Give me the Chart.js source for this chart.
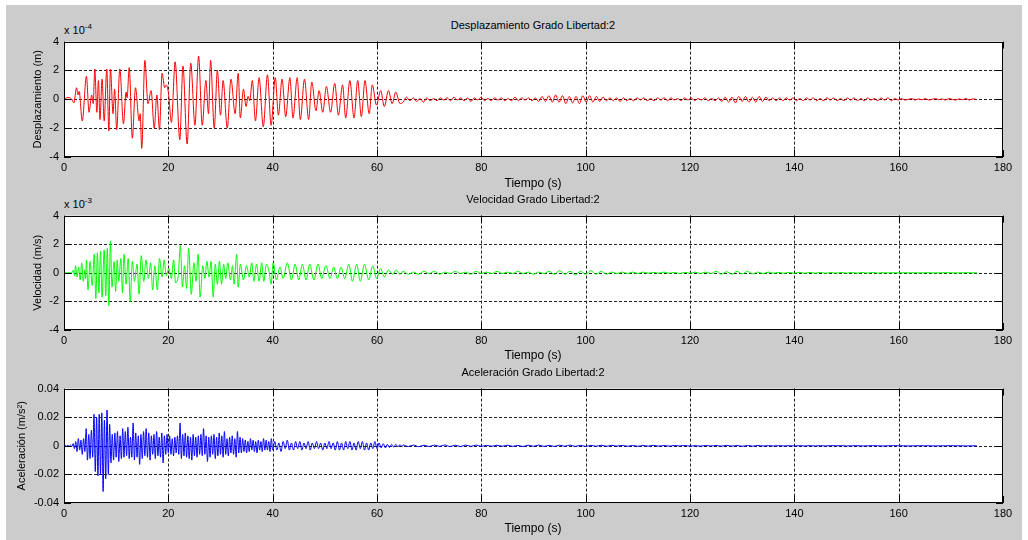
<!DOCTYPE html>
<html>
<head>
<meta charset="utf-8">
<script src="https://cdn.jsdelivr.net/npm/chart.js@4.4.1/dist/chart.umd.min.js"></script>
<style>
  body { margin: 0; width: 1028px; height: 540px; background: #fff; overflow: hidden;
         font-family: Arial, "Liberation Sans", Helvetica, sans-serif; }
  #fig { position: absolute; left: 6px; top: 5px; width: 1016px; height: 535px; background: #cccccc; }
  canvas { position: absolute; left: 0; }
  .lbl { position: absolute; font-size: 11px; color: #000; white-space: nowrap; transform: translate(-50%, -50%); }
  .lbl.axt { font-size: 12px; }
  .exp { position: absolute; font-size: 11px; color: #000; white-space: nowrap; }
  .exp sup { font-size: 8px; }
</style>
</head>
<body>
<div id="fig"></div>

<div class="lbl" style="left:533px;top:25px">Desplazamiento Grado Libertad:2</div>
<div class="exp" style="left:64px;top:22px">x 10<sup>-4</sup></div>
<canvas id="dispChart" width="1028" height="150" style="top:30px"></canvas>
<div class="lbl axt" style="left:533px;top:183px">Tiempo (s)</div>

<div class="lbl" style="left:533px;top:199px">Velocidad Grado Libertad:2</div>
<div class="exp" style="left:64px;top:196px">x 10<sup>-3</sup></div>
<canvas id="velChart" width="1028" height="149" style="top:204px"></canvas>
<div class="lbl axt" style="left:533px;top:355px">Tiempo (s)</div>

<div class="lbl" style="left:533px;top:372px">Aceleración Grado Libertad:2</div>
<canvas id="accChart" width="1028" height="149" style="top:377px"></canvas>
<div class="lbl axt" style="left:533px;top:528px">Tiempo (s)</div>

<script>
// time axis
const timeMin = 0, timeMax = 180, timeStep = 20;

// displacement (x 1e-4 m), extrema
const dispTime = [
  0, 0.5, 1.0, 1.5, 1.9, 2.4, 2.7, 2.9, 3.5, 4.3,
  4.8, 5.3, 5.6, 5.9, 6.3, 6.6, 6.9, 7.3, 7.7, 8.2,
  8.6, 8.9, 9.4, 9.7, 10.1, 10.7, 11.4, 11.9, 12.1, 12.5,
  13.1, 13.7, 14.4, 14.6, 14.9, 15.5, 16.1, 16.7, 17.3, 17.8,
  18.3, 18.8, 19.3, 19.6, 20.0, 20.6, 21.3, 22.2, 22.8, 23.6,
  24.3, 25.1, 25.8, 26.5, 27.2, 27.7, 28.1, 28.8, 29.4, 30.0,
  30.5, 31.3, 32.0, 32.8, 33.4, 33.8, 34.4, 34.9, 35.3, 35.6,
  36.1, 36.7, 37.4, 38.2, 39.0, 39.7, 40.5, 41.1, 41.8, 42.5,
  43.3, 43.9, 44.7, 45.3, 46.1, 46.9, 47.5, 48.3, 48.9, 49.6,
  50.3, 51.1, 51.9, 52.6, 53.4, 54.0, 54.8, 55.6, 56.3, 57.0,
  57.7, 58.5, 59.1, 59.9, 60.7, 61.4, 62.2, 62.9, 63.6, 64.4
];
const dispValue = [
  0, 0.1, 0.12, 0, -0.25, 0.8, 0.3, 0.55, -1.5, 1.6,
  -0.9, 0.3, -0.3, 2.1, -0.9, 1.3, -1.4, 1.4, -1.5, 2.1,
  -2.2, 2.1, -1.0, 0.7, -2.1, 2.1, -1.7, 0.5, 0.1, 2.2,
  -2.7, 0.8, -1.5, -1.0, -3.4, 2.7, -0.3, 0.6, -2.0, 0.3,
  -2.1, 1.8, 0.8, 1.0, 0.5, -1.6, 2.6, -2.8, 2.3, -3.1,
  2.5, -1.8, 3.0, -1.8, 1.3, -1.0, 2.7, -2.0, 2.0, -1.1,
  1.3, -2.0, 1.4, -1.0, 1.8, -1.3, 0.7, -0.5, 0.2, -0.1,
  1.3, -1.5, 1.5, -1.9, 1.7, -1.8, 1.5, -1.1, 1.4, -1.2,
  1.5, -1.3, 1.5, -1.4, 1.4, -1.4, 1.2, -0.8, 0.6, -0.9,
  0.9, -0.9, 1.1, -1.1, 1.0, -1.3, 1.3, -1.3, 1.3, -1.2,
  1.3, -1.0, 1.0, -0.4, 0.6, -0.5, 0.6, -0.3, 0.5, -0.3
];
// displacement tail, sampled every 0.65 s from 65 s
const dispTailStart = 65, dispTailStep = 0.65;
const dispTail = [
  -0.2, 0.15, -0.1, 0.1, -0.15, 0.05, -0.2, 0.1, -0.1, 0.05,
  -0.1, 0.1, -0.05, 0.1, -0.1, 0.15, -0.05, 0.1, -0.1, 0.1,
  -0.15, 0.1, -0.05, 0.15, -0.1, 0.05, -0.1, 0.1, -0.05, 0.1,
  -0.1, 0.05, -0.1, 0.15, -0.1, 0.1, -0.05, 0.1, -0.1,
  0.1, -0.15, 0.2, -0.15, 0.25, -0.2, 0.3, -0.2, 0.25, -0.3, 0.2,
  -0.25, 0.2, -0.3, 0.25, -0.2, 0.25, -0.2, 0.2, -0.15, 0.15, -0.1, 0.1, -0.1,
  0.1, -0.15, 0.1, -0.1, 0.05, -0.1, 0.1, -0.05, 0.1, -0.1,
  0.05, -0.1, 0.1, -0.05, 0.1, -0.1, 0.1, -0.05, 0.05, -0.1,
  0.1, -0.05, 0.1, -0.1, 0.05, -0.05, 0.1, -0.1, 0.05, -0.1, 0.1,
  -0.15, 0.15, -0.2, 0.15, -0.25, 0.2, -0.15, 0.2, -0.2, 0.15, -0.2, 0.2, -0.15, 0.15, -0.1, 0.1, -0.1, 0.1,
  -0.1, 0.1, -0.05, 0.1, -0.1, 0.05, -0.1, 0.1, -0.05, 0.1,
  -0.1, 0.05, -0.1, 0.1, -0.05, 0.1, -0.1, 0.05, -0.1, 0.1,
  -0.05, 0.1, -0.1, 0.05, -0.1, 0.1, -0.05, 0.05, -0.1, 0.1, -0.05, 0.1, -0.1, 0.05, -0.05,
  0.05, -0.05, 0, 0.05, -0.05, 0.03, -0.03, 0.05, -0.05, 0, 0.05, -0.03,
  0.03, -0.05, 0.05, 0, -0.05, 0.03, -0.03, 0.05, -0.05, 0.03, 0
];

// velocity (x 1e-3 m/s)
const velTime = [
  0, 1.5, 1.8, 2.0, 2.2, 2.5, 2.8, 3.1, 3.4, 3.7,
  4.0, 4.15, 4.3, 4.6, 5.0, 5.4, 5.8, 6.1, 6.4, 6.7,
  7.0, 7.3, 7.7, 8.0, 8.3, 8.6, 8.9, 9.2, 9.6, 9.9,
  10.2, 10.5, 10.9, 11.2, 11.5, 11.9, 12.3, 12.7, 13.1, 13.5,
  14.0, 14.4, 14.8, 15.3, 15.7, 16.2, 16.6, 17.0, 17.4, 17.9,
  18.3, 18.8, 19.2, 19.6, 20.1, 20.6, 21.0, 21.4, 21.9, 22.3,
  22.7, 23.1, 23.5, 23.9, 24.4, 24.9, 25.3, 25.7, 26.1, 26.6,
  27.0, 27.4, 27.8, 28.2, 28.6, 29.0, 29.4, 29.8, 30.2, 30.6,
  31.0, 31.4, 31.9, 32.3, 32.6, 33.1, 33.4, 33.8, 34.4, 35.0,
  35.5, 36.0, 36.4, 36.9, 37.4, 37.9, 38.3, 38.8, 39.3, 39.7,
  40.1, 40.7, 41.4, 42.0, 42.8, 43.6, 44.3, 45.0, 45.7, 46.4,
  47.1, 47.9, 48.7, 49.4, 50.2, 51.0, 51.7, 52.4, 53.1, 53.8,
  54.6, 55.3, 56.1, 56.8, 57.6, 58.4, 59.2, 59.9, 60.7, 61.4,
  62.2, 63.0, 63.7, 64.4
];
const velValue = [
  0, 0, 0.2, -0.2, 0.5, -0.3, 0.4, -0.5, 0.7, -0.6,
  0.2, -0.4, 0.9, -1.2, 0.8, -0.9, 1.3, -1.8, 1.4, -1.4,
  1.5, -1.7, 1.6, -1.6, 1.7, -2.3, 2.2, -1.0, 0.8, -1.3,
  0.9, -0.6, 1.0, -1.4, 1.3, -0.8, 1.0, -2.0, 0.8, -0.6,
  0.6, -1.5, 1.2, -0.6, 0.9, -0.4, 0.7, -1.2, 0.5, -1.2,
  1.0, -0.3, 0.9, -0.2, 0.3, -0.4, 0.9, -0.7, -0.2, 1.9,
  -1.0, 0.5, -1.1, 1.7, -1.5, 0.7, -0.6, 1.3, -1.7, 0.5,
  -0.4, 0.8, -0.3, 0.8, -1.7, 0.6, -0.8, 0.8, -0.8, 0.6,
  -0.4, 0.7, -0.5, 0.5, -0.8, 1.3, -1.0, 0.6, -0.5, 0.5,
  -0.3, 0.7, -0.6, 0.6, -0.6, 0.7, -0.6, 0.6, 0.1, -0.8,
  0.7, -0.5, 0.4, -0.4, 0.7, -0.5, 0.6, -0.5, 0.6, -0.5,
  0.6, -0.5, 0.6, -0.4, 0.5, -0.4, 0.4, -0.4, 0.4, -0.4,
  0.6, -0.6, 0.6, -0.6, 0.6, -0.5, 0.5, -0.4, 0.3, -0.3,
  0.2, -0.1, 0.2, -0.1
];
// velocity tail, every 1 s from 65 s
const velTailStart = 65, velTailStep = 1;
const velTail = [
  0.1, -0.1, 0.05, -0.1, 0.1, -0.05, 0.1, -0.1, 0.05, -0.05,
  0.1, -0.05, 0.05, -0.1, 0.1, -0.05, 0.05, -0.05, 0.1, -0.05,
  0.05, -0.05, 0.1, -0.05, 0.05, -0.1, 0.05, -0.05, 0.1, -0.1,
  0.15, -0.1, 0.1, -0.15, 0.1, -0.1, 0.15, -0.1, 0.1, -0.1,
  0.05, -0.05, 0.05, -0.05, 0.05, -0.05, 0.05, -0.03, 0.03, -0.03,
  0.05, -0.03, 0.03, -0.05, 0.03, -0.03, 0.05, -0.05, 0.05, -0.05,
  0.1, -0.1, 0.08, -0.1, 0.1, -0.08, 0.1, -0.08, 0.05, -0.05,
  0.05, -0.03, 0.03, -0.03, 0.03, -0.03, 0.03, -0.03, 0.03, -0.03,
  0.03, -0.03, 0.02, -0.02, 0.02, -0.02, 0.02, -0.02, 0.02, -0.02,
  0.02, -0.02, 0.01, -0.01, 0.01, -0.01, 0.01, -0.01, 0.01, -0.01,
  0.01, 0, -0.01, 0, 0.01, 0, -0.01, 0, 0.01, 0, 0
];

// acceleration (x 1e-3 m/s2), three uniformly sampled stretches
const accEarlyStart = 0, accEarlyStep = 0.25;
const accEarly = [
  0, 0.3, -0.3, 0.4, -0.3, 0.5, -0.4,
  1.5, -2, 3, -4, 5, -3, 4, -6, 5, -4,
  12, -10, 8, -9, 11, -8,
  22, -18, 20, -21, 22, -20, 23, -32, 18, -23, 25, -20, 15, -12, 8,
  -10, 9, -8, 10, -11, 7, -9, 12, -8, 10, -7,
  13, -9, 6, -8, 16, -10,
  9, -8, 7, -13, 8, -9, 10, -7, 12, -8, 9, -10, 7, -6, 8, -9, 10, -7, 6, -8, 9, -12, 7, -6, 8, -5,
  7, -6, 5, -7, 6, -5, 7, -6,
  16, -9, 8, -7,
  9, -8, 7, -9, 6, -10, 8, -7, 6, -8, 7, -6,
  8, -7, 12, -6, 7, -11, 6, -8, 7, -6, 8, -9, 6, -7, 9, -6, 7, -8, 10, -6, 5, -7, 6, -5, 7, -6, 5, -8, 10, -5, 6, -5,
  5, -4, 4, -5, 3, -4, 5, -3, 4, -4, 3, -5, 4, -3, 3, -4, 5, -3, 4, -3, 3, -4, 5, -3
];
const accMidStart = 40.4, accMidStep = 0.4;
const accMid = [
  3, -3, 2, -4, 3, -2, 4, -3, 2, -3,
  3, -2, 3, -3, 2, -2, 3, -3, 2, -2,
  3, -2, 2, -3, 2, -2, 3, -2, 2, -3,
  3, -3, 2, -3, 3, -2, 3, -3, 2, -3,
  3, -2, 3, -3, 2, -3, 2, -2, 3, -2,
  2, -1.5, 1.5, -1.5, 1, -1.2, 1, -0.8, 1, -0.7, 0.8, -0.6
];
const accLateStart = 65, accLateStep = 1;
const accLate = [
  0.6, -0.5, 0.5, -0.6, 0.4, -0.5, 0.5, -0.4, 0.6, -0.5,
  0.4, -0.5, 0.5, -0.4, 0.5, -0.4, 0.3, -0.3, 0.4, -0.3,
  0.4, -0.4, 0.3, -0.5, 0.4, -0.3, 0.5, -0.4, 0.3, -0.4,
  0.4, -0.3, 0.5, -0.4, 0.3, -0.4, 0.3, -0.3, 0.4, -0.3,
  0.3, -0.2, 0.3, -0.3, 0.2, -0.3, 0.2, -0.2, 0.3, -0.2,
  0.2, -0.2, 0.2, -0.1, 0.2, -0.2, 0.1, -0.2, 0.2, -0.1,
  0.2, -0.2, 0.3, -0.2, 0.2, -0.3, 0.2, -0.2, 0.2, -0.1,
  0.1, -0.1, 0.1, -0.1, 0.1, -0.1, 0.1, -0.1, 0.1, -0.1,
  0.1, -0.1, 0.1, 0, 0.1, -0.1, 0, 0.1, -0.1, 0,
  0.1, 0, -0.1, 0, 0.1, 0, 0, -0.1, 0, 0.1,
  0, 0, -0.1, 0, 0, 0.1, 0, 0, -0.1, 0, 0
];

const FONT = { family: 'Arial, "Liberation Sans", Helvetica, sans-serif', size: 11 };

function pairs(times, values) {
  return values.map((v, i) => ({ x: times[i], y: v }));
}
function sampled(start, step, values) {
  return values.map((v, i) => ({ x: +(start + i * step).toFixed(3), y: v }));
}

// white axes, dotted grid, box and inward ticks the way matlab draws them
const framePlugin = {
  id: 'frame',
  beforeDraw(chart) {
    const { ctx, chartArea: a } = chart;
    ctx.save();
    ctx.fillStyle = '#ffffff';
    ctx.fillRect(a.left, a.top, a.right - a.left, a.bottom - a.top);
    ctx.restore();
  },
  beforeDatasetsDraw(chart) {
    const { ctx, chartArea: a, scales: { x, y } } = chart;
    ctx.save();
    ctx.strokeStyle = '#222';
    ctx.lineWidth = 1;
    ctx.setLineDash([3, 2]);
    ctx.beginPath();
    x.ticks.forEach(t => {
      if (t.value <= x.min || t.value >= x.max) return;
      const px = Math.round(x.getPixelForValue(t.value)) + 0.5;
      ctx.moveTo(px, a.top); ctx.lineTo(px, a.bottom);
    });
    y.ticks.forEach(t => {
      if (t.value <= y.min || t.value >= y.max) return;
      const py = Math.round(y.getPixelForValue(t.value)) + 0.5;
      ctx.moveTo(a.left, py); ctx.lineTo(a.right, py);
    });
    ctx.stroke();
    ctx.restore();
  },
  afterDatasetsDraw(chart) {
    const { ctx, chartArea: a, scales: { x, y } } = chart;
    const len = 7;
    ctx.save();
    ctx.strokeStyle = '#000';
    ctx.lineWidth = 1;
    ctx.beginPath();
    x.ticks.forEach(t => {
      const px = Math.round(x.getPixelForValue(t.value)) + 0.5;
      ctx.moveTo(px, a.top); ctx.lineTo(px, a.top + len);
      ctx.moveTo(px, a.bottom); ctx.lineTo(px, a.bottom - len);
    });
    y.ticks.forEach(t => {
      const py = Math.round(y.getPixelForValue(t.value)) + 0.5;
      ctx.moveTo(a.left, py); ctx.lineTo(a.left + len, py);
      ctx.moveTo(a.right, py); ctx.lineTo(a.right - len, py);
    });
    ctx.stroke();
    ctx.strokeRect(Math.round(a.left) + 0.5, Math.round(a.top) + 0.5,
                   Math.round(a.right - a.left) - 1, Math.round(a.bottom - a.top) - 1);
    ctx.restore();
  }
};

function makeChart(id, data, color, yRange, yTitle, titlePad, tickFmt) {
  return new Chart(document.getElementById(id), {
    type: 'line',
    data: {
      datasets: [{
        data: data,
        borderColor: color,
        borderWidth: 1,
        pointRadius: 0,
        fill: false,
        cubicInterpolationMode: 'monotone'
      }]
    },
    options: {
      responsive: false,
      animation: false,
      events: [],
      layout: { padding: { left: 0, right: 25, top: 8, bottom: 1 } },
      plugins: { legend: { display: false }, tooltip: { enabled: false } },
      scales: {
        x: {
          type: 'linear',
          min: timeMin, max: timeMax,
          grid: { display: false, drawTicks: false },
          border: { display: false },
          ticks: { stepSize: timeStep, color: '#000', font: FONT, padding: 4, maxRotation: 0 },
          afterFit: s => { s.height = 22; }
        },
        y: {
          min: yRange[0], max: yRange[1],
          grid: { display: false, drawTicks: false },
          border: { display: false },
          ticks: { stepSize: yRange[2], color: '#000', font: FONT, padding: 5, callback: tickFmt },
          title: { display: true, text: yTitle, color: '#000', font: FONT, padding: { top: titlePad, bottom: 0 } },
          afterFit: s => { s.width = 64; }
        }
      }
    },
    plugins: [framePlugin]
  });
}

makeChart('dispChart',
  pairs(dispTime, dispValue).concat(sampled(dispTailStart, dispTailStep, dispTail)),
  '#ff0000', [-4, 4, 2], 'Desplazamiento (m)', 31, v => v);

makeChart('velChart',
  pairs(velTime, velValue).concat(sampled(velTailStart, velTailStep, velTail)),
  '#00ff00', [-4, 4, 2], 'Velocidad (m/s)', 31, v => v);

makeChart('accChart',
  sampled(accEarlyStart, accEarlyStep, accEarly)
    .concat(sampled(accMidStart, accMidStep, accMid))
    .concat(sampled(accLateStart, accLateStep, accLate)),
  '#0000ff', [-40, 40, 20], 'Aceleración (m/s²)', 15,
  v => (v === 0 ? '0' : (v / 1000).toFixed(2)));
</script>
</body>
</html>
